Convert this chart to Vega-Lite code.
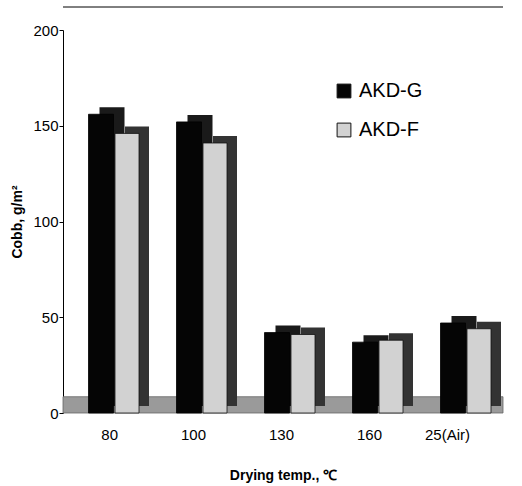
{
  "$schema": "https://vega.github.io/schema/vega-lite/v6.json",
  "width": 440,
  "height": 383,
  "autosize": {"type": "none"},
  "padding": {"left": 63, "top": 30, "right": 19, "bottom": 73},
  "background": "white",
  "config": {
    "view": {"stroke": null},
    "font": "Liberation Sans",
    "axis": {"grid": false, "domainColor": "black", "tickColor": "black", "labelColor": "black", "titleColor": "black"}
  },
  "data": {
    "values": [
      {"temp": "80", "series": "AKD-G", "cobb": 156},
      {"temp": "80", "series": "AKD-F", "cobb": 146},
      {"temp": "100", "series": "AKD-G", "cobb": 152},
      {"temp": "100", "series": "AKD-F", "cobb": 141},
      {"temp": "130", "series": "AKD-G", "cobb": 42},
      {"temp": "130", "series": "AKD-F", "cobb": 41},
      {"temp": "160", "series": "AKD-G", "cobb": 37},
      {"temp": "160", "series": "AKD-F", "cobb": 38},
      {"temp": "25(Air)", "series": "AKD-G", "cobb": 47},
      {"temp": "25(Air)", "series": "AKD-F", "cobb": 44}
    ]
  },
  "layer": [
    {
      "data": {"values": [{}]},
      "mark": {"type": "rule", "color": "black", "strokeWidth": 1, "yOffset": -23},
      "encoding": {"y": {"datum": 200, "type": "quantitative"}}
    },
    {
      "data": {"values": [{}]},
      "mark": {"type": "rect", "color": "#9a9a9a", "stroke": "#666", "strokeWidth": 0.8},
      "encoding": {
        "y": {"datum": 0, "type": "quantitative"},
        "y2": {"datum": 8.5}
      }
    },
    {
      "transform": [{"filter": "datum.series === 'AKD-G'"}],
      "mark": {"type": "bar", "color": "#1a1a1a", "width": 25, "xOffset": 5, "yOffset": -7},
      "encoding": {
        "x": {"field": "temp", "type": "nominal", "sort": ["80", "100", "130", "160", "25(Air)"]},
        "y": {"field": "cobb", "type": "quantitative"}
      }
    },
    {
      "transform": [{"filter": "datum.series === 'AKD-G'"}],
      "mark": {"type": "bar", "width": 25, "xOffset": -6, "stroke": "#000", "strokeWidth": 0.8},
      "encoding": {
        "x": {"field": "temp", "type": "nominal", "sort": ["80", "100", "130", "160", "25(Air)"]},
        "y": {"field": "cobb", "type": "quantitative"},
        "color": {
          "field": "series", "type": "nominal",
          "scale": {"domain": ["AKD-G", "AKD-F"], "range": ["#050505", "#d2d2d2"]},
          "legend": {"title": null, "orient": "none", "legendX": 271, "legendY": 51, "padding": 0, "symbolType": "square", "symbolSize": 190, "symbolStrokeColor": "black", "symbolStrokeWidth": 1, "labelFontSize": 20, "labelColor": "black", "rowPadding": 19, "labelOffset": 5}
        }
      }
    },
    {
      "transform": [{"filter": "datum.series === 'AKD-F'"}],
      "mark": {"type": "bar", "color": "#333333", "width": 24, "xOffset": 30, "yOffset": -7},
      "encoding": {
        "x": {"field": "temp", "type": "nominal", "sort": ["80", "100", "130", "160", "25(Air)"]},
        "y": {"field": "cobb", "type": "quantitative"}
      }
    },
    {
      "transform": [{"filter": "datum.series === 'AKD-F'"}],
      "mark": {"type": "bar", "width": 24, "xOffset": 20, "stroke": "#111", "strokeWidth": 0.8},
      "encoding": {
        "x": {
          "field": "temp", "type": "nominal", "sort": ["80", "100", "130", "160", "25(Air)"],
          "scale": {"paddingInner": 0, "paddingOuter": 0},
          "axis": {"title": "Drying temp., ℃", "titleFontSize": 14, "titleFontWeight": "bold", "titlePadding": 26, "labelFontSize": 15, "labelAngle": 0, "ticks": false, "domain": false, "labelPadding": 21, "labelOffset": 11}
        },
        "y": {
          "field": "cobb", "type": "quantitative",
          "scale": {"domain": [0, 200]},
          "axis": {"title": "Cobb, g/m²", "titleFontSize": 14, "titleFontWeight": "bold", "titlePadding": 8, "labelFontSize": 15, "values": [0, 50, 100, 150, 200], "tickSize": 4, "labelPadding": 1}
        },
        "color": {"field": "series", "type": "nominal"}
      }
    }
  ]
}
